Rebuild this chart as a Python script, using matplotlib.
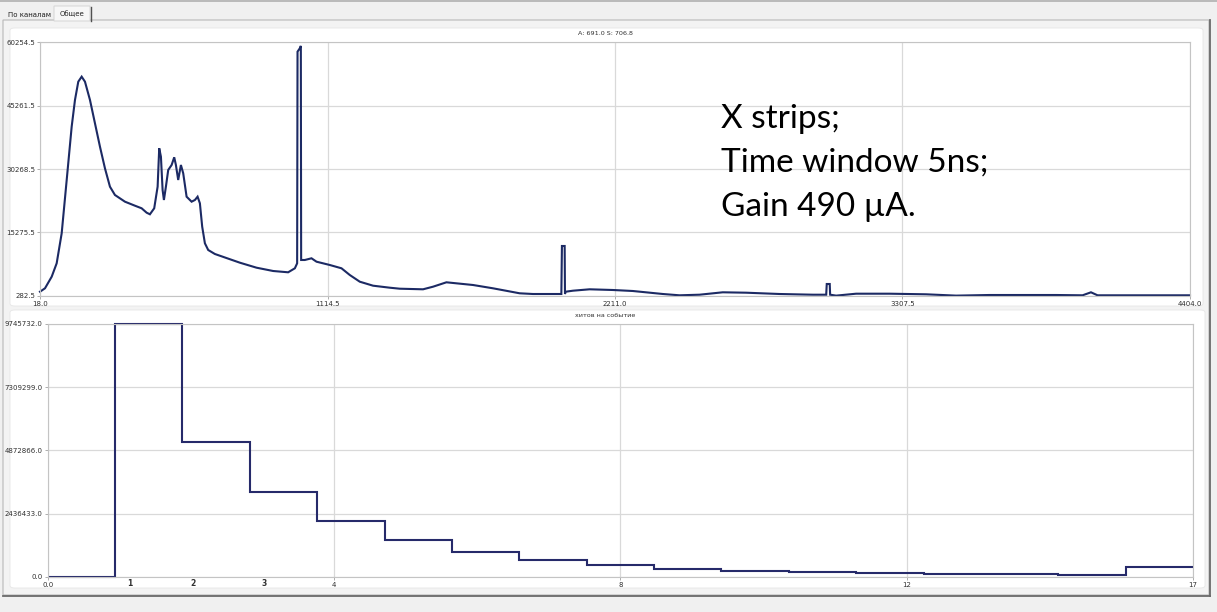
import numpy as np
import matplotlib
matplotlib.use("Agg")
import matplotlib.pyplot as plt
from matplotlib.patches import FancyBboxPatch
from matplotlib.lines import Line2D


W, H = 1217, 612

# amplitude spectrum, summed over X strips
AMP_X = [18, 37, 62.6, 81.6, 100.7, 119.8, 138.8, 151.4, 164, 176.9, 189.5, 208.6,
         227.6, 246.7, 265.7, 284.8, 303.8, 342, 380, 405.6, 424.7, 437.2, 453.6,
         466.6, 472.7, 479.2, 485.6, 490.6, 498.2, 507, 520, 529.9, 536.3, 545.1,
         555.4, 564.2, 577.1, 596.2, 608.8, 619, 627.8, 636.6, 646.9, 659.5, 685,
         780.3, 843.9, 907.2, 964.4, 990, 998.7, 1000.2, 1009, 1012.8, 1014, 1028,
         1053.5, 1072.6, 1123.3, 1167.9, 1199.5, 1237.6, 1288.3, 1352, 1390, 1478.9,
         1517, 1568, 1669.4, 1745.6, 1847.4, 1898, 2006.4, 2008.6, 2019, 2020.2,
         2023, 2050.6, 2114.2, 2203, 2279, 2393.5, 2457, 2533.5, 2622, 2711.4,
         2838.4, 2965.5, 3016.5, 3018.6, 3030, 3031.5, 3054.4, 3130.6, 3257.6,
         3397.4, 3511.7, 3638.7, 3892.8, 3994.3, 4026.3, 4051.4, 4404]
AMP_Y = [1230, 2034, 4780, 7952, 15053, 27668, 40285, 46604, 50936, 52119, 50936, 46604,
         41090, 35551, 30438, 26083, 24118, 22532, 21586, 20970, 19929, 19550, 20970,
         26083, 35172, 33184, 25302, 22934, 26083, 30035, 31219, 33041, 31219, 27668,
         31219, 29254, 23716, 22532, 22934, 23716, 22153, 16615, 12686, 11100, 10153,
         8094, 6910, 6129, 5821, 6768, 7952, 58037, 58842, 59400, 8733, 8733,
         9135, 8330, 7549, 6768, 5182, 3596, 2650, 2176, 1939, 1797,
         2413, 3454, 2815, 2034, 851, 685, 685, 12047, 12047, 685,
         1229, 1466, 1797, 1632, 1395, 685, 377, 519, 1087, 992,
         685, 519, 519, 3052, 3052, 519, 300, 756, 756,
         614, 300, 448, 448, 377, 1087, 377, 377]
AMP_XLIM = (18.0, 4404.0)
AMP_YLIM = (282.5, 60254.5)

# hits per event histogram
HIT_EDGES = list(range(0, 18))
HIT_COUNTS = [0, 9745732, 5210000, 3280000, 2140000, 1420000, 955000, 660000, 465000,
              310000, 235000, 170000, 142000, 105000, 88000, 52000, 390000]
HIT_XLIM = (0.0, 17.0)
HIT_YLIM = (0.0, 9745732.0)
HIT_XLABELS = ["0.0", "4", "8", "12", "17"]
HIT_EXTRA_POS = [1.22, 2.15, 3.22]
HIT_EXTRA_LABELS = ["1", "2", "3"]

TITLE_TOP = "A: 691.0 S: 706.8"
TITLE_BOTTOM = "хитов на событие"
NOTE = "X strips;\nTime window 5ns;\nGain 490 µA."
TABS = ["По каналам", "Общее"]

LINE = "#1c2a64"
GRID = "#d9d9d9"
TICK = "#303030"


def fx(px):
    return px / W


def fy(py):
    return 1 - py / H


def box(fig, x0, y0, x1, y1, fc, ec, lw=0.8, r=0.0):
    p = FancyBboxPatch((fx(x0), fy(y1)), fx(x1 - x0), (y1 - y0) / H,
                       boxstyle=f"round,pad=0,rounding_size={r}",
                       transform=fig.transFigure, fc=fc, ec=ec, lw=lw, zorder=-5)
    fig.patches.append(p)


def hline(fig, x0, x1, y, color, lw=1.0):
    fig.lines.append(Line2D([fx(x0), fx(x1)], [fy(y), fy(y)], transform=fig.transFigure,
                            color=color, lw=lw, zorder=-4))


def vline(fig, x, y0, y1, color, lw=1.0):
    fig.lines.append(Line2D([fx(x), fx(x)], [fy(y0), fy(y1)], transform=fig.transFigure,
                            color=color, lw=lw, zorder=-4))


def style_axes(ax):
    ax.set_facecolor("white")
    for s in ax.spines.values():
        s.set_color("#c4c4c4")
        s.set_linewidth(0.8)
    ax.grid(True, color=GRID, lw=0.9)
    ax.set_axisbelow(True)
    ax.tick_params(which="both", length=2, width=0.6, color="#a0a0a0",
                   labelsize=5, labelcolor=TICK, pad=1.5)


fig = plt.figure(figsize=(W / 100, H / 100), dpi=100, facecolor="#f0f0f0")

# window chrome: tabs and tab pane
hline(fig, 0, W, 0.8, "#b0b0b0", 1.2)
box(fig, 3, 20, 1209, 595, "#f3f3f3", "#b8b8b8", 0.8)
vline(fig, 1209.5, 20, 596, "#6a6a6a", 1.3)
hline(fig, 3, 1210, 595.5, "#6a6a6a", 1.3)
box(fig, 54, 6, 90, 21, "#f7f7f7", "#d0d0d0", 0.6)
vline(fig, 90.5, 7, 21, "#505050", 1.0)
fig.text(fx(8), fy(15), TABS[0], fontsize=5, color="#202020", va="center", ha="left")
fig.text(fx(60), fy(14), TABS[1], fontsize=5, color="#202020", va="center", ha="left")

# white chart panels
box(fig, 10, 28, 1203, 306, "white", "#e6e6e6", 0.6, r=0.004)
box(fig, 10, 310, 1205, 588, "white", "#e6e6e6", 0.6, r=0.004)

# amplitude panel
ax1 = fig.add_axes([fx(40), fy(295.7), fx(1190 - 40), (295.7 - 42.3) / H])
ax1.plot(AMP_X, AMP_Y, color=LINE, lw=1.5, solid_joinstyle="miter", clip_on=False)
ax1.set_xlim(*AMP_XLIM)
ax1.set_ylim(*AMP_YLIM)
xt = np.linspace(AMP_XLIM[0], AMP_XLIM[1], 5)
yt = np.linspace(AMP_YLIM[0], AMP_YLIM[1], 5)
ax1.set_xticks(xt, [f"{v:.1f}" for v in xt])
ax1.set_yticks(yt, [f"{v:.1f}" for v in yt])
style_axes(ax1)
ax1.text(0.592, 0.757, NOTE, transform=ax1.transAxes, fontsize=24, family="Lato",
         va="top", ha="left", linespacing=1.58, color="black")

# hits per event panel
ax2 = fig.add_axes([fx(47.7), fy(576.7), fx(1193 - 47.7), (576.7 - 324) / H])
ax2.stairs(HIT_COUNTS, HIT_EDGES, baseline=None, color="#262a6a", lw=1.5, clip_on=False)
ax2.set_xlim(*HIT_XLIM)
ax2.set_ylim(*HIT_YLIM)
ax2.set_xticks(np.linspace(HIT_XLIM[0], HIT_XLIM[1], 5), HIT_XLABELS)
ax2.set_xticks(HIT_EXTRA_POS, HIT_EXTRA_LABELS, minor=True)
yt2 = np.linspace(HIT_YLIM[0], HIT_YLIM[1], 5)
ax2.set_yticks(yt2, [f"{v:.1f}" for v in yt2])
style_axes(ax2)
ax2.tick_params(axis="x", which="minor", length=0, labelsize=5.5)
for lab in ax2.get_xticklabels(minor=True):
    lab.set_fontweight("bold")

fig.text(fx(605), fy(33.5), TITLE_TOP, fontsize=4.6, color="#303030", ha="center", va="center")
fig.text(fx(605), fy(315.5), TITLE_BOTTOM, fontsize=4.6, color="#303030", ha="center", va="center")

fig.savefig("out.png", dpi=100, facecolor=fig.get_facecolor())
